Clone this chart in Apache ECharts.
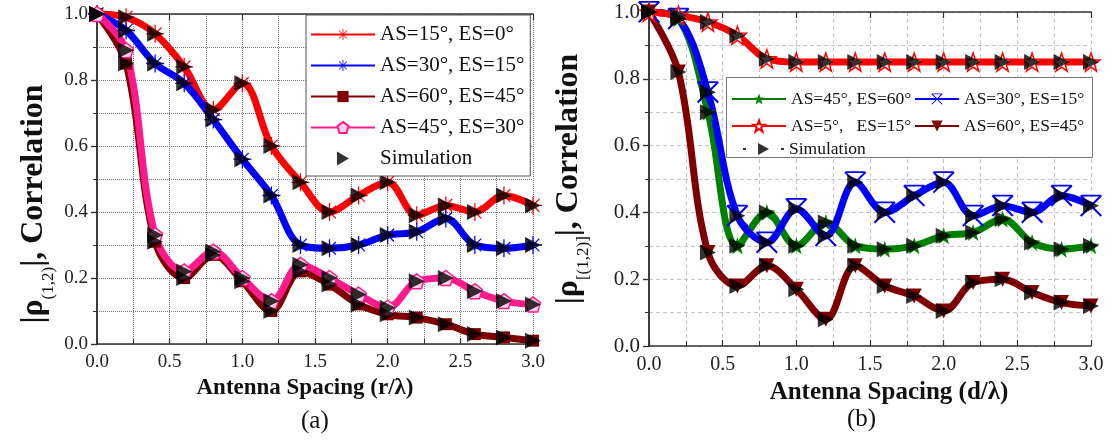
<!DOCTYPE html>
<html>
<head>
<meta charset="utf-8">
<script src="https://cdn.jsdelivr.net/npm/echarts@6/dist/echarts.min.js"></script>
<style>
  html, body { margin: 0; padding: 0; background: #fff; }
  #chart { width: 1112px; height: 443px; }
</style>
</head>
<body>
<div id="chart"></div>
<script>
// antenna spacing samples (same for both panels)
const xs = [0, 0.2, 0.4, 0.6, 0.8, 1.0, 1.2, 1.4, 1.6, 1.8, 2.0, 2.2, 2.4, 2.6, 2.8, 3.0];

// panel (a)
const aNames = ["AS=15°, ES=0°", "AS=30°, ES=15°", "AS=60°, ES=45°", "AS=45°, ES=30°"];
const aRed = [1.0, 0.99, 0.94, 0.84, 0.71, 0.79, 0.60, 0.49, 0.40, 0.45, 0.49, 0.39, 0.42, 0.40, 0.45, 0.42];
const aBlue = [1.0, 0.95, 0.85, 0.79, 0.68, 0.56, 0.45, 0.30, 0.29, 0.30, 0.33, 0.34, 0.38, 0.30, 0.29, 0.30];
const aDarkRed = [1.0, 0.85, 0.31, 0.20, 0.27, 0.19, 0.10, 0.22, 0.18, 0.12, 0.09, 0.08, 0.06, 0.03, 0.02, 0.01];
const aPink = [1.0, 0.89, 0.33, 0.22, 0.28, 0.20, 0.13, 0.24, 0.20, 0.15, 0.11, 0.19, 0.20, 0.16, 0.13, 0.12];

// panel (b)  (trailing spaces keep legend names apart from panel (a))
const bNames = ["AS=45°, ES=60°", "AS=30°, ES=15° ", "AS=5°,   ES=15°", "AS=60°, ES=45° "];
const bGreen = [1.0, 0.98, 0.70, 0.30, 0.40, 0.30, 0.37, 0.30, 0.29, 0.30, 0.33, 0.34, 0.38, 0.31, 0.29, 0.30];
const bBlue = [1.0, 0.98, 0.76, 0.39, 0.31, 0.41, 0.33, 0.49, 0.40, 0.45, 0.49, 0.39, 0.42, 0.40, 0.45, 0.42];
const bRed = [1.0, 0.99, 0.97, 0.93, 0.86, 0.85, 0.85, 0.85, 0.85, 0.85, 0.85, 0.85, 0.85, 0.85, 0.85, 0.85];
const bDarkRed = [1.0, 0.82, 0.28, 0.18, 0.24, 0.17, 0.08, 0.24, 0.18, 0.15, 0.105, 0.19, 0.20, 0.16, 0.13, 0.12];

const SERIF = "Liberation Serif";
const pairs = (arr) => xs.map((x, i) => [x, arr[i]]);

const ASTERISK = "path://M-10,-0.7L10,-0.7L10,0.7L-10,0.7Z M-0.7,-10L0.7,-10L0.7,10L-0.7,10Z M-6.58,-7.56L7.56,6.58L6.58,7.56L-7.56,-6.58Z M7.56,-6.58L-6.58,7.56L-7.56,6.58L6.58,-7.56Z";
const XMARK = "path://M-6.58,-7.56L7.56,6.58L6.58,7.56L-7.56,-6.58Z M7.56,-6.58L-6.58,7.56L-7.56,6.58L6.58,-7.56Z M-7,-7.6L7,-7.6L7,-6.4L-7,-6.4Z";
const STAR = "path://M0,-10L2.35,-3.24L9.51,-3.09L3.8,1.24L5.88,8.09L0,4L-5.88,8.09L-3.8,1.24L-9.51,-3.09L-2.35,-3.24Z";
const PENTA = "path://M0,-10L9.5,-3.1L5.9,8.1L-5.9,8.1L-9.5,-3.1Z";
const RTRI = "path://M0,0L12,7L0,14Z";
// legend icon for panel (b): dot, triangle, dot
const DOT_TRI = "path://M0,6L3,6L3,8L0,8Z M15,1L26,7L15,13Z M38,6L41,6L41,8L38,8Z";

function curve(name, data, color, idx, symbol, size, itemStyle, rotate) {
  return {
    name: name, type: "line", xAxisIndex: idx, yAxisIndex: idx,
    data: pairs(data), smooth: 0.35,
    symbol: symbol, symbolSize: size, symbolRotate: rotate || 0,
    lineStyle: { color: color, width: 7 },
    itemStyle: itemStyle || { color: color },
    z: 3
  };
}
function sim(data, idx) {
  return {
    name: "Simulation", type: "scatter", xAxisIndex: idx, yAxisIndex: idx,
    data: pairs(data), symbol: "triangle", symbolSize: 16, symbolRotate: -90,
    itemStyle: { color: "#000" }, z: 5
  };
}

function xAx(grid, dark, fs) {
  const gc = dark ? "#777" : "#c4c4c4";
  const gt = dark ? "dotted" : [4, 3];
  return [{
    gridIndex: grid, type: "value", min: 0, max: 3, interval: 0.5,
    axisLine: { onZero: false, lineStyle: { color: "#333", width: 1.5 } },
    axisTick: { inside: true, length: 6, lineStyle: { color: "#333", width: 1.2 } },
    minorTick: { show: true, splitNumber: 2, length: 5, lineStyle: { color: "#333" } },
    splitLine: { show: true, lineStyle: { color: gc, type: gt, width: 1 } },
    minorSplitLine: { show: true, lineStyle: { color: gc, type: gt, width: 1 } },
    axisLabel: { formatter: (v) => v.toFixed(1), fontFamily: SERIF, fontSize: fs, color: "#222", margin: 9 }
  }, {
    gridIndex: grid, type: "value", min: 0, max: 3, interval: 0.5, position: "top",
    axisLine: { onZero: false, lineStyle: { color: "#333", width: 1.5 } },
    axisTick: { inside: true, length: 6, lineStyle: { color: "#333", width: 1.2 } },
    axisLabel: { show: false }, splitLine: { show: false }
  }];
}
function yAx(grid, dark, fs, gap, sub, pad) {
  const gc = dark ? "#777" : "#c4c4c4";
  const gt = dark ? "dotted" : [4, 3];
  return [{
    gridIndex: grid, type: "value", min: 0, max: 1, interval: 0.2,
    axisLine: { show: true, lineStyle: { color: "#333", width: 1.5 } },
    axisTick: { show: true, inside: false, length: 6, lineStyle: { color: "#333", width: 1.2 } },
    minorTick: { show: true, splitNumber: 2, length: 4, lineStyle: { color: "#333" } },
    splitLine: { show: true, lineStyle: { color: gc, type: gt, width: 1 } },
    minorSplitLine: { show: true, lineStyle: { color: gc, type: gt, width: 1 } },
    axisLabel: { formatter: (v) => v.toFixed(1), fontFamily: SERIF, fontSize: fs, color: "#222", margin: 9 },
    name: "{m||ρ}{s|" + sub + "}{m||, Correlation}",
    nameLocation: "middle", nameRotate: 90, nameGap: gap,
    nameTextStyle: {
      padding: pad,
      rich: {
        m: { fontFamily: SERIF, fontWeight: "bold", fontSize: 32, color: "#111", lineHeight: 34, verticalAlign: "top" },
        s: { fontFamily: SERIF, fontSize: 17, color: "#111", lineHeight: 18, padding: [22, 0, 0, 0], verticalAlign: "top" }
      }
    }
  }, {
    gridIndex: grid, type: "value", min: 0, max: 1, interval: 0.2, position: "right",
    axisLine: { show: true, lineStyle: { color: "#333", width: 1.5 } },
    axisTick: { show: true, inside: true, length: 6, lineStyle: { color: "#333", width: 1.2 } },
    axisLabel: { show: false }, splitLine: { show: false }
  }];
}

const xa = xAx(0, true, 19), xb = xAx(1, false, 20);
xa[0].name = "Antenna Spacing (r/λ)";
xa[0].nameGap = 30;
xa[0].nameTextStyle = { fontFamily: SERIF, fontWeight: "bold", fontSize: 23, color: "#111", verticalAlign: "top", padding: [0, 20, 0, 0] };
xb[0].name = "Antenna Spacing (d/λ)";
xb[0].nameGap = 30;
xb[0].nameTextStyle = { fontFamily: SERIF, fontWeight: "bold", fontSize: 25, color: "#111", verticalAlign: "top", padding: [0, 0, 0, 38] };
xa[0].nameLocation = xb[0].nameLocation = "middle";

const ya = yAx(0, true, 19, 45, "(1,2)", [0, 50, 0, 0]);
const yb = yAx(1, false, 21, 62, "[(1,2)]", [0, 0, 0, 0]);

const legendText = (size) => ({ fontFamily: SERIF, fontSize: size, color: "#111" });
function bLegend(item, left, top, w) {
  return {
    data: [item], orient: "horizontal", left: left, top: top,
    itemWidth: w, itemHeight: 14, padding: 0, textStyle: legendText(17.5), z: 6
  };
}

const chart = echarts.init(document.getElementById("chart"));
chart.setOption({
  animation: false,
  backgroundColor: "#fff",
  title: [
    { text: "(a)", left: 296, top: 404, textStyle: { fontFamily: SERIF, fontWeight: "normal", fontSize: 25, color: "#111" } },
    { text: "(b)", left: 842, top: 402, textStyle: { fontFamily: SERIF, fontWeight: "normal", fontSize: 25, color: "#111" } }
  ],
  grid: [
    { left: 97, right: 579, top: 14, height: 330 },
    { left: 649, right: 21, top: 12, height: 334 }
  ],
  xAxis: [xa[0], xa[1], xb[0], xb[1]],
  yAxis: [ya[0], ya[1], yb[0], yb[1]],
  graphic: [{
    type: "rect", left: 726, top: 77, z: 4,
    shape: { width: 366, height: 80 },
    style: { fill: "#fff", stroke: "#777", lineWidth: 1 }
  }],
  legend: [
    {
      data: [aNames[0], aNames[1], aNames[2], aNames[3], { name: "Simulation", icon: RTRI }],
      orient: "vertical", left: 306, top: 15, itemWidth: 64, itemHeight: 14, itemGap: 10,
      padding: [9, 6, 7, 4], backgroundColor: "#fff", borderColor: "#555", borderWidth: 1,
      textStyle: legendText(21), z: 6
    },
    bLegend(bNames[0], 731, 90, 54),
    bLegend(bNames[1], 914, 90, 44),
    bLegend(bNames[2], 731, 117, 54),
    bLegend(bNames[3], 914, 117, 44),
    {
      data: [{ name: "Simulation", icon: DOT_TRI, itemStyle: { color: "#000" } }],
      orient: "horizontal", left: 743, top: 140, itemWidth: 41, itemHeight: 14,
      padding: 0, textStyle: legendText(17.5), z: 6
    }
  ],
  series: [
    curve(aNames[0], aRed, "#ff0000", 0, ASTERISK, 18),
    curve(aNames[1], aBlue, "#0000ff", 0, ASTERISK, 18),
    curve(aNames[2], aDarkRed, "#800000", 0, "rect", 12),
    curve(aNames[3], aPink, "#ff1a8c", 0, PENTA, 15, { color: "#ffd0e6", borderColor: "#ff1a8c", borderWidth: 1.5 }),
    sim(aRed, 0), sim(aBlue, 0), sim(aDarkRed, 0), sim(aPink, 0),
    curve(bNames[0], bGreen, "#008000", 2, STAR, 17),
    curve(bNames[1], bBlue, "#0000ff", 2, XMARK, 22),
    curve(bNames[2], bRed, "#ff0000", 2, STAR, 18, { color: "#fff", borderColor: "#ff0000", borderWidth: 1.5 }),
    curve(bNames[3], bDarkRed, "#800000", 2, "triangle", 15, null, 180),
    sim(bGreen, 2), sim(bBlue, 2), sim(bRed, 2), sim(bDarkRed, 2)
  ]
});
</script>
</body>
</html>
